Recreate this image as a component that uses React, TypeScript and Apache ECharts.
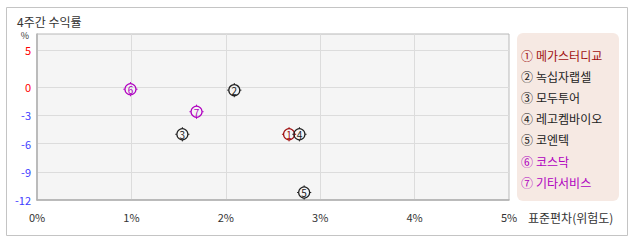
import React, { useEffect, useRef } from 'react';
import * as echarts from 'echarts';

const names = ['메가스터디교', '녹십자랩셀', '모두투어', '레고켐바이오', '코엔텍', '코스닥', '기타서비스'];
const circled = ['①', '②', '③', '④', '⑤', '⑥', '⑦'];
const risk = [2.67, 2.09, 1.54, 2.78, 2.83, 0.99, 1.69];
const ret = [-5.0, -0.3, -5.0, -5.0, -11.2, -0.2, -2.6];
const colors = ['#a01010', '#222222', '#222222', '#222222', '#222222', '#b000c0', '#b000c0'];
const xTicks = [0, 1, 2, 3, 4, 5];
const yTicks = [5, 0, -3, -6, -9, -12];

// the original axis compresses the positive side (5 sits where 4 would be)
const POS = 0.8;
const toAxis = (v: number) => (v > 0 ? v * POS : v);
const fromAxis = (v: number) => (v > 0 ? Math.round(v / POS) : v);

const FONT = '"Noto Sans CJK KR", "Noto Sans", sans-serif';

export default function App() {
  const ref = useRef<HTMLDivElement>(null);
  useEffect(() => {
    document.body.style.margin = '0';
    const chart = echarts.init(ref.current!, undefined, { renderer: 'svg' });
    const yVals = yTicks.map(toAxis);
    const legendY0 = 55.5;
    const legendStep = 21.1;
    chart.setOption({
      animation: false,
      textStyle: { fontFamily: FONT },
      grid: {
        left: 37,
        top: 34,
        width: 472,
        height: 166,
        show: true,
        backgroundColor: '#f5f5f5',
        borderColor: '#b8b8b8',
        borderWidth: 1,
      },
      xAxis: {
        type: 'value',
        min: xTicks[0],
        max: xTicks[xTicks.length - 1],
        interval: 1,
        axisLine: { show: true, onZero: false, lineStyle: { color: '#b0b0b0', width: 1.5 } },
        axisTick: { show: false },
        splitLine: { show: true, lineStyle: { color: '#dcdcdc', width: 1 } },
        axisLabel: {
          formatter: (v: number) => `${v}%`,
          color: '#333',
          fontSize: 11,
          margin: 11,
          fontFamily: FONT,
        },
      },
      yAxis: {
        type: 'value',
        min: -12,
        max: 5.68,
        axisLine: { show: true, onZero: false, lineStyle: { color: '#b0b0b0', width: 1.5 } },
        axisTick: { show: false, customValues: yVals },
        splitLine: { show: true, lineStyle: { color: '#dcdcdc', width: 1 } },
        axisLabel: {
          customValues: yVals,
          margin: 6,
          fontSize: 11,
          fontFamily: FONT,
          formatter: (v: number) => {
            const d = fromAxis(v);
            return d >= 0 ? `{r|${d}}` : `{b|${d}}`;
          },
          rich: {
            r: { color: '#ff0000', fontSize: 11, fontFamily: FONT, lineHeight: 12 },
            b: { color: '#3c3cff', fontSize: 11, fontFamily: FONT, lineHeight: 12 },
          },
        },
      },
      series: [
        {
          type: 'custom',
          data: risk.map((x, i) => [x, toAxis(ret[i]), i]),
          renderItem: (params: any, api: any) => {
            const idx = api.value(2);
            const p = api.coord([api.value(0), api.value(1)]);
            const c = colors[idx];
            const r = 5.5;
            const cx = p[0];
            const cy = p[1];
            const ln = (x1: number, y1: number, x2: number, y2: number) => ({
              type: 'line',
              shape: { x1, y1, x2, y2 },
              style: { stroke: c, lineWidth: 1 },
            });
            return {
              type: 'group',
              children: [
                { type: 'circle', shape: { cx, cy, r }, style: { fill: 'none', stroke: c, lineWidth: 1.2 } },
                ln(cx, cy - r - 1.6, cx, cy - r),
                ln(cx, cy + r, cx, cy + r + 1.6),
                ln(cx - r - 1.6, cy, cx - r, cy),
                ln(cx + r, cy, cx + r + 1.6, cy),
                {
                  type: 'text',
                  style: {
                    text: String(idx + 1),
                    x: cx,
                    y: cy + 0.5,
                    align: 'center',
                    verticalAlign: 'middle',
                    fill: c,
                    fontSize: 10,
                    fontFamily: FONT,
                  },
                },
              ],
            };
          },
        },
      ],
      graphic: [
        {
          type: 'rect',
          shape: { x: 6.5, y: 7.5, width: 621, height: 228 },
          style: { fill: 'none', stroke: '#c4c4c4', lineWidth: 1 },
          silent: true,
          z: -10,
        },
        {
          type: 'text',
          style: { text: '4주간 수익률', x: 17, y: 21, verticalAlign: 'middle', fill: '#333', fontSize: 12, fontFamily: FONT },
        },
        {
          type: 'text',
          style: { text: '%', x: 25, y: 35, align: 'center', verticalAlign: 'middle', fill: '#333', fontSize: 9, fontFamily: FONT },
        },
        {
          type: 'text',
          style: { text: '표준편차(위험도)', x: 528, y: 217, verticalAlign: 'middle', fill: '#333', fontSize: 12, fontFamily: FONT },
        },
        {
          type: 'rect',
          shape: { x: 517, y: 33, width: 102, height: 168, r: 6 },
          style: { fill: '#f6e9e3' },
        },
        ...names.flatMap((n, i) => [
          {
            type: 'text',
            style: {
              text: circled[i],
              x: 521,
              y: legendY0 + i * legendStep,
              verticalAlign: 'middle',
              fill: colors[i],
              fontSize: 12,
              fontFamily: FONT,
            },
          },
          {
            type: 'text',
            style: {
              text: n,
              x: 536,
              y: legendY0 + i * legendStep,
              verticalAlign: 'middle',
              fill: colors[i],
              fontSize: 12,
              fontFamily: FONT,
            },
          },
        ]),
      ],
    });
    return () => chart.dispose();
  }, []);
  return <div ref={ref} style={{ width: 638, height: 242 }} />;
}
